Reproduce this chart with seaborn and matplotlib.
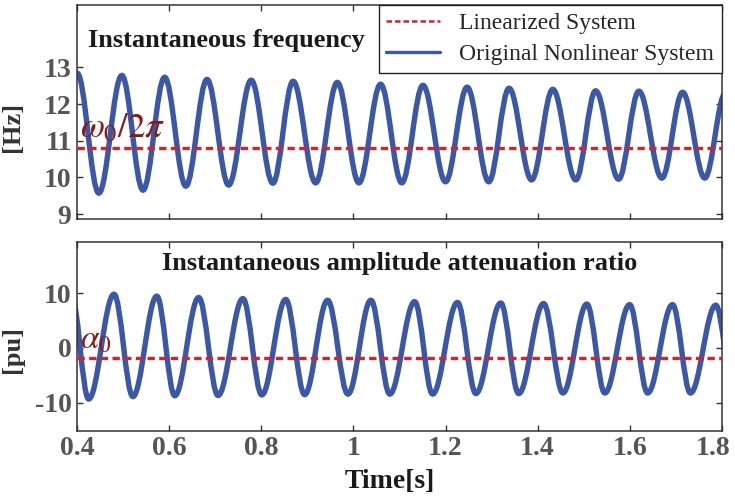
import matplotlib
matplotlib.use("Agg")
import matplotlib.pyplot as plt
import matplotlib.transforms as mtransforms
from matplotlib.path import Path
from matplotlib.patches import PathPatch
from matplotlib.lines import Line2D
import seaborn as sns

# Extrema (times in s)
freq_peak_t = [0.400, 0.497, 0.590, 0.682, 0.778, 0.869, 0.965, 1.059,
               1.151, 1.247, 1.338, 1.433, 1.526, 1.620, 1.715, 1.808]
freq_peak_v = [12.84, 12.78, 12.73, 12.67, 12.65, 12.62, 12.59, 12.54,
               12.51, 12.46, 12.43, 12.40, 12.36, 12.35, 12.32, 12.30]
freq_trough_t = [0.447, 0.543, 0.636, 0.729, 0.825, 0.918, 1.012, 1.105,
                 1.200, 1.294, 1.387, 1.483, 1.576, 1.670, 1.763]
freq_trough_v = [9.57, 9.65, 9.76, 9.79, 9.84, 9.85, 9.85, 9.85,
                 9.88, 9.88, 9.93, 9.93, 9.95, 9.98, 9.98]

amp_peak_t = [0.387, 0.480, 0.573, 0.664, 0.760, 0.853, 0.944, 1.038,
              1.133, 1.226, 1.320, 1.413, 1.507, 1.600, 1.693, 1.787]
amp_peak_v = [10.0, 9.8, 9.45, 9.2, 9.0, 8.85, 8.7, 8.7,
              8.45, 8.3, 8.2, 8.1, 8.0, 7.9, 7.9, 7.8]
amp_trough_t = [0.425, 0.521, 0.612, 0.706, 0.801, 0.894, 0.988, 1.079,
                1.172, 1.266, 1.359, 1.455, 1.546, 1.639, 1.732, 1.826]
amp_trough_v = [-9.3, -8.85, -8.7, -8.65, -8.55, -8.5, -8.4, -8.4,
                -8.4, -8.3, -8.3, -8.2, -8.2, -8.2, -8.2, -8.2]

freq_lin = 10.8   # omega_0 / 2pi
amp_lin = -1.8    # alpha_0
t_span = [0.4, 1.8]

x_ticks = [0.4, 0.6, 0.8, 1.0, 1.2, 1.4, 1.6, 1.8]
x_labels = ["0.4", "0.6", "0.8", "1", "1.2", "1.4", "1.6", "1.8"]
freq_ticks = [9, 10, 11, 12, 13]
amp_ticks = [-10, 0, 10]

blue = "#3B57A8"
red = "#D0252C"
darkred = "#8B1A1A"

sns.set_theme(style="ticks")
plt.rcParams["font.family"] = ["Liberation Serif", "DejaVu Serif"]
plt.rcParams["mathtext.fontset"] = "stix"
plt.rcParams["axes.unicode_minus"] = False
plt.rcParams["axes.edgecolor"] = "#333333"
plt.rcParams["axes.linewidth"] = 1.1


def osc_path(ts, vs):
    # smooth half-wave segments between extrema (horizontal tangents)
    pts = sorted(zip(ts, vs))
    k = 0.3634
    verts = [pts[0]]
    codes = [Path.MOVETO]
    for (t0, v0), (t1, v1) in zip(pts[:-1], pts[1:]):
        h = t1 - t0
        verts += [(t0 + k * h, v0), (t1 - k * h, v1), (t1, v1)]
        codes += [Path.CURVE4] * 3
    return Path(verts, codes)


fig = plt.figure(figsize=(7.35, 4.97), dpi=100)
ax1 = fig.add_axes([0.105, 0.559, 0.877, 0.431])
ax2 = fig.add_axes([0.105, 0.133, 0.877, 0.380])

panels = [
    (ax1, freq_peak_t + freq_trough_t, freq_peak_v + freq_trough_v, freq_lin,
     (8.86, 14.7), freq_ticks, "[Hz]"),
    (ax2, amp_peak_t + amp_trough_t, amp_peak_v + amp_trough_v, amp_lin,
     (-15.1, 19.3), amp_ticks, "[pu]"),
]

for ax, ts, vs, lin, ylim, yt, ylab in panels:
    ax.add_patch(PathPatch(osc_path(ts, vs), fill=False, edgecolor=blue,
                           lw=3.9, capstyle="round", joinstyle="round", zorder=2))
    sns.lineplot(x=t_span, y=[lin, lin], ax=ax, color=red, lw=2.4, zorder=3)
    ax.lines[-1].set_dashes((2.2, 1.3))
    ax.set_xlim(*t_span)
    ax.set_ylim(*ylim)
    ax.set_xticks(x_ticks)
    ax.set_yticks(yt)
    ax.tick_params(direction="in", length=4, width=1, top=True, right=True,
                   labelsize=20, labelcolor="#555555", colors="#333333", pad=4)
    for lab in ax.get_yticklabels() + ax.get_xticklabels():
        lab.set_fontweight("bold")
    ax.set_ylabel(ylab, fontsize=19, fontweight="bold", color="#333333")
    ax.yaxis.set_label_coords(-0.083, 0.43)

ax1.set_xticklabels([])
ax2.set_xticklabels(x_labels)
xlabs = ax2.get_xticklabels()
for lab in xlabs:
    lab.set_fontweight("bold")
# pull the last label in a little so it stays inside the figure
xlabs[-1].set_transform(xlabs[-1].get_transform() +
                        mtransforms.ScaledTranslation(-0.09, 0, fig.dpi_scale_trans))
ax2.set_xlabel("Time[s]", fontsize=20, fontweight="bold", color="#1a1a1a", labelpad=4)
ax2.xaxis.set_label_coords(0.485, -0.20)

ax1.text(0.0166, 0.835, "Instantaneous frequency", transform=ax1.transAxes,
         ha="left", va="center", fontsize=19, fontweight="bold", color="#1a1a1a")
ax2.text(0.5, 0.885, "Instantaneous amplitude attenuation ratio", transform=ax2.transAxes,
         ha="center", va="center", fontsize=19, fontweight="bold", color="#1a1a1a")

ax1.text(0.407, freq_lin + 0.08, r"$\omega_0/2\pi$", color=darkred, fontsize=25,
         ha="left", va="bottom")
ax2.text(0.407, amp_lin + 0.5, r"$\alpha_0$", color=darkred, fontsize=24,
         ha="left", va="bottom")

handles = [Line2D([], [], color=red, lw=1.8, dashes=(2.2, 1.2)),
           Line2D([], [], color=blue, lw=2.4)]
leg = ax1.legend(handles, ["Linearized System", "Original Nonlinear System"],
                 loc="upper right", borderaxespad=0, fancybox=False,
                 framealpha=1, edgecolor="#222222", fontsize=17,
                 handlelength=2.3, handletextpad=0.8, labelspacing=0.42,
                 borderpad=0.32)
leg.get_frame().set_linewidth(1.0)
leg.set_zorder(5)

fig.savefig("out.png", dpi=100)
